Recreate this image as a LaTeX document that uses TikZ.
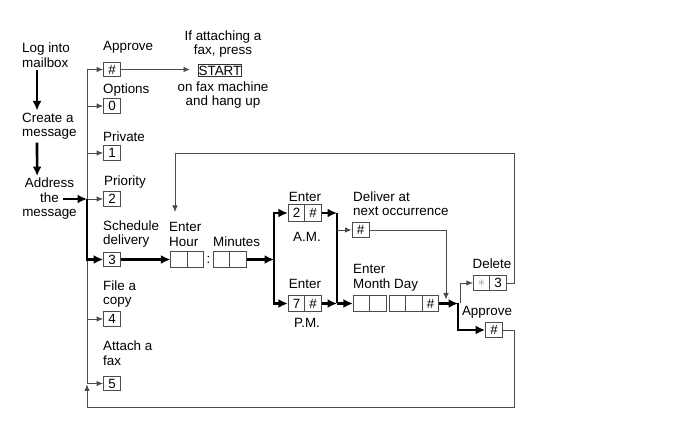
\documentclass[tikz,border=0pt]{standalone}
\usepackage{fontspec}
\setmainfont{Liberation Sans}
\usetikzlibrary{arrows.meta}

\begin{document}
\begin{tikzpicture}[x=1pt, y=-1pt,
  every node/.style={font=\fontsize{13.4}{14.5}\selectfont, inner sep=0pt},
  key/.style={draw=black!70, line width=0.8pt, minimum width=17pt, minimum height=14.5pt},
  cell/.style={draw=black!70, line width=0.8pt, minimum width=16.5pt, minimum height=16.5pt},
  thinline/.style={draw=black!70, line width=0.8pt},
  thinarrow/.style={thinline, -{Latex[length=6.5pt,width=5.5pt]}},
  bigline/.style={line width=2.6pt},
  bigarrow/.style={bigline, -{Latex[length=9.5pt,width=9pt]}}]
\useasboundingbox (0,0) rectangle (678,435);
% left column
\node[anchor=west,align=left] (login) at (22,55) {Log into\\mailbox};
\node[anchor=west,align=left] (create) at (22,126) {Create a\\message};
\node[align=center] (addr) at (49.5,199) {Address\\the\\message};
\draw[bigarrow,shorten <=3pt,shorten >=2pt] ([xshift=15pt]login.south west) -- ([xshift=15pt]create.north west);
\draw[bigarrow,shorten <=3pt,shorten >=2pt] ([xshift=15pt]create.south west) -- ([xshift=15pt]addr.north west);
% options
\node[key] (kh) at (112,69.5) {\#};
\node[key] (k0) at (112,106) {0};
\node[key] (k1) at (112,153) {1};
\node[key] (k2) at (112,199) {2};
\node[key] (k3) at (112,259.5) {3};
\node[key] (k4) at (112,319) {4};
\node[key] (k5) at (112,383.5) {5};
\node[anchor=west] (lh) at (103,47) {Approve};
\node[anchor=west] (l0) at (103,90) {Options};
\node[anchor=west] (l1) at (103,137) {Private};
\node[anchor=west] (l2) at (104,182) {Priority};
\node[anchor=west,align=left] (l3) at (103,234) {Schedule\\delivery};
\node[anchor=west,align=left] (l4) at (103,294) {File a\\copy};
\node[anchor=west,align=left] (l5) at (103,353) {Attach a\\fax};
\coordinate (ttop) at (87,69.5);
\coordinate (tin) at (87,199);
\draw[thinline] (ttop) -- (ttop |- k5);
\foreach \k in {kh,k0,k1,k2,k4,k5} \draw[thinarrow] (ttop |- \k) -- (\k);
\draw[bigarrow] ([xshift=13pt]addr.center) -- (tin);
\draw[bigarrow] (tin) -- (tin |- k3) -- (k3);
% fax
\node[align=center] (faxtxt) at (223,44) {If attaching a\\fax, press};
\node[draw=black!80, line width=0.9pt, inner xsep=0.5pt, inner ysep=1.5pt] (start) at (220,70.5) {START};
\node[align=center] (hang) at (223,95) {on fax machine\\and hang up};
\coordinate (faxin) at (190,69.5);
\draw[thinarrow] (kh) -- (faxin);
% hour and minutes
\node[cell] (h1) at (179,259.5) {};
\node[cell] (h2) at (195.5,259.5) {};
\node (colon) at (208.5,259.5) {:};
\node[cell] (m1) at (221.5,259.5) {};
\node[cell] (m2) at (238,259.5) {};
\node[anchor=west] (lent) at (169,227) {Enter};
\node[anchor=west] (lhour) at (169,242) {Hour};
\node[anchor=west] (lmin) at (213,242) {Minutes};
\draw[bigarrow] (k3) -- (h1);
\coordinate (split) at (274,259.5);
\draw[bigarrow] (m2) -- (split);
% a.m. / p.m.
\node[cell] (a1) at (296.5,213) {2};
\node[cell] (a2) at (313,213) {\#};
\node[cell] (p1) at (296.5,303.5) {7};
\node[cell] (p2) at (313,303.5) {\#};
\node (lam) at (305,197) {Enter};
\node (am) at (307,237) {A.M.};
\node (lpm) at (305,284) {Enter};
\node (pm) at (307,323) {P.M.};
\draw[bigarrow] (split) |- (a1);
\draw[bigarrow] (split) |- (p1);
\coordinate (join) at (337,303.5);
\draw[bigarrow] (a2) -- (a2 -| join);
\draw[bigline] (a2 -| join) -- (join);
\draw[bigarrow] (p2) -- (join);
% next occurrence
\node[key] (nx) at (360.5,230) {\#};
\node[anchor=west,align=left] (lnx) at (353,203.5) {Deliver at\\next occurrence};
\draw[thinarrow] (join |- nx) -- (nx);
% month and day
\node[cell] (d1) at (361.5,303.5) {};
\node[cell] (d2) at (378,303.5) {};
\node[cell] (d3) at (397.5,303.5) {};
\node[cell] (d4) at (414,303.5) {};
\node[cell] (d5) at (430.5,303.5) {\#};
\node[anchor=west] (lmd) at (353,269) {Enter};
\node[anchor=west] (lmd2) at (353,285) {Month Day};
\draw[bigarrow] (join) -- (d1);
\coordinate (nxr) at (446,230);
\draw[thinarrow,shorten >=4pt] (nx) -- (nxr) -- (nxr |- d5);
% delete / approve
\coordinate (j2) at (458,303.5);
\draw[bigarrow] (d5) -- (j2);
\node[cell, minimum height=15pt] (x1) at (481.5,283) {\color{black!45}$\ast$};
\node[cell, minimum height=15pt] (x2) at (498,283) {3};
\node[key] (ap) at (494,330) {\#};
\node (ldel) at (492,264) {Delete};
\node (lap) at (487,312) {Approve};
\draw[thinarrow] ([xshift=2pt]j2) |- (x1);
\draw[bigarrow] (j2) |- (ap);
% loops back
\coordinate (re) at (514,153);
\coordinate (hourin) at (175,212);
\draw[thinarrow] (x2) -| (re) -| (hourin);
\coordinate (be) at (514,407);
\draw[thinarrow,shorten >=1pt] (ap) -| (be) -| (ttop |- k5);
\end{tikzpicture}
\end{document}
